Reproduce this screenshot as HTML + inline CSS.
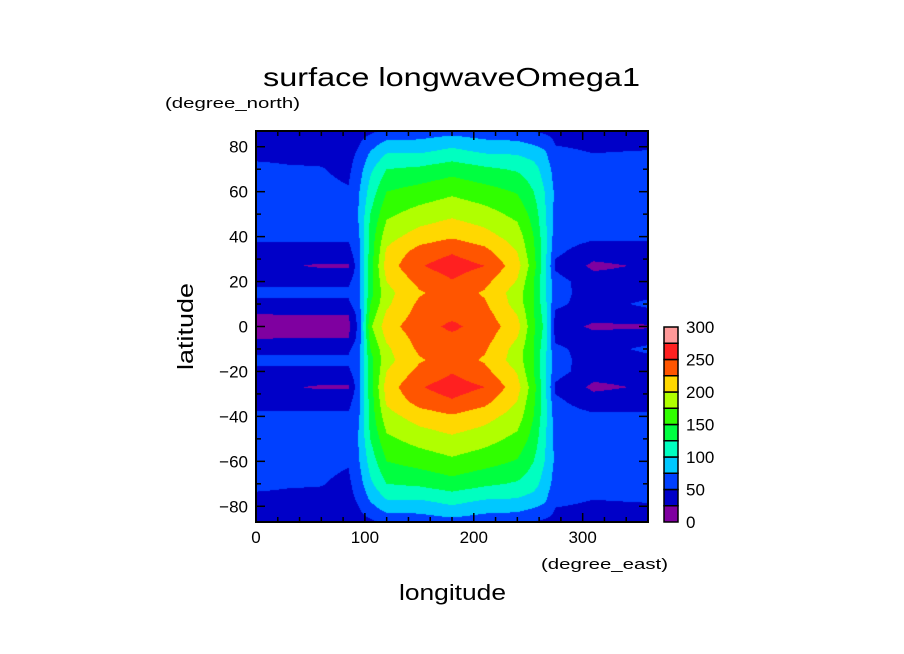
<!DOCTYPE html>
<html><head><meta charset="utf-8">
<style>
html,body{margin:0;padding:0;background:#fff;}
#wrap{position:relative;width:904px;height:654px;overflow:hidden;font-family:"Liberation Sans",sans-serif;}
canvas{position:absolute;left:256px;top:131px;}
svg{position:absolute;left:0;top:0;}
</style></head>
<body>
<div id="wrap">
<canvas id="cv" width="392" height="391"></canvas>
<svg id="sv" width="904" height="654">
<text x="263" y="86" font-size="26" textLength="377" lengthAdjust="spacingAndGlyphs">surface longwaveOmega1</text>
<text x="165" y="108" font-size="15" textLength="135" lengthAdjust="spacingAndGlyphs">(degree_north)</text>
<text x="541" y="569" font-size="15" textLength="127" lengthAdjust="spacingAndGlyphs">(degree_east)</text>
<text x="399" y="600" font-size="22" textLength="107" lengthAdjust="spacingAndGlyphs">longitude</text>
<text x="193" y="370" font-size="22" textLength="87" lengthAdjust="spacingAndGlyphs" transform="rotate(-90 193 370)">latitude</text>
<g id="axes"></g>
<g id="cbar"></g>
</svg>
</div>
<script>
// ---- data ----
const lons = [0,30,60,85,95,105,120,150,180,210,240,255,265,275,310,360];
const latsNorth = [0,5,10,15,20,27,33,40,50,60,70,77,82,87];
const row0  = [15,15,15,18,60,170,215,240,255,240,210,155,120,40,20,22];
const row5  = [22,25,24,25,62,160,205,235,245,235,200,152,115,45,35,40];
const row10 = [45,45,45,45,70,150,195,230,240,228,190,150,110,55,40,55];
const row15 = [55,55,55,55,70,140,192,222,238,222,188,150,108,58,40,42];
const row20 = [45,45,45,45,70,140,200,232,248,232,198,150,105,60,35,35];
const row27 = [40,27,22,22,70,140,212,248,262,250,210,160,110,45,20,28];
const row33 = [40,40,40,40,72,135,205,236,248,234,200,155,110,55,35,38];
const row40 = [55,55,55,55,75,135,190,212,222,210,188,150,110,62,55,55];
const row50 = [58,58,58,57,78,125,170,185,195,185,168,140,105,68,60,60];
const row60 = [58,57,55,52,75,110,150,160,170,160,148,125,100,70,62,60];
const row70 = [55,52,51,45,65,95,125,130,140,130,122,110,90,65,58,58];
const row77 = [45,45,45,42,55,78,100,100,110,100,98,90,80,55,50,52];
const row82 = [40,40,40,38,48,62,80,80,90,80,78,70,65,48,45,45];
const row87 = [35,35,30,30,40,45,55,60,65,60,55,50,45,42,40,40];
const rows = [row0,row5,row10,row15,row20,row27,row33,row40,row50,row60,row70,row77,row82,row87];
const levels = [0,25,50,75,100,125,150,175,200,225,250,275,300];
const levelColors = ["#7f00a0","#0000c8","#0040ff","#00c8ff","#00ffc0","#00ff40","#30ff00","#b0ff00","#ffd800","#ff5500","#ff2020","#ff9999"];
const xTicks = [0,100,200,300];
const yTicks = [-80,-60,-40,-20,0,20,40,60,80];

// ---- axes ----
const X0=256,X1=648,Y0=131,Y1=522,LON0=0,LON1=360,LAT0=-87,LAT1=87;
const xs = v => X0 + (v-LON0)/(LON1-LON0)*(X1-X0);
const ys = v => Y1 - (v-LAT0)/(LAT1-LAT0)*(Y1-Y0);

function idx(arr,v){let i=0;while(i<arr.length-2&&v>arr[i+1])i++;return i;}
function field(lon,lat){
  const a=Math.min(Math.abs(lat),87);
  const j=idx(latsNorth,a), i=idx(lons,lon);
  const ty=(a-latsNorth[j])/(latsNorth[j+1]-latsNorth[j]);
  const tx=Math.max(0,Math.min(1,(lon-lons[i])/(lons[i+1]-lons[i])));
  const r0=rows[j], r1=rows[j+1];
  const v0=r0[i]+(r0[i+1]-r0[i])*tx, v1=r1[i]+(r1[i+1]-r1[i])*tx;
  return v0+(v1-v0)*ty;
}
function hex(c){return [parseInt(c.substr(1,2),16),parseInt(c.substr(3,2),16),parseInt(c.substr(5,2),16)];}
const rgb = levelColors.map(hex);
const cv=document.getElementById('cv'), ctx=cv.getContext('2d');
const W=cv.width,H=cv.height, img=ctx.createImageData(W,H);
for(let py=0;py<H;py++){
  const lat = LAT1-(py+0.5)/H*(LAT1-LAT0);
  for(let px=0;px<W;px++){
    const lon = LON0+(px+0.5)/W*(LON1-LON0);
    const v=field(lon,lat);
    let k=0; while(k<levelColors.length-1 && v>=levels[k+1]) k++;
    const c=rgb[k], o=(py*W+px)*4;
    img.data[o]=c[0];img.data[o+1]=c[1];img.data[o+2]=c[2];img.data[o+3]=255;
  }
}
ctx.putImageData(img,0,0);

const NS='http://www.w3.org/2000/svg';
function mk(tag,attrs,parent){const e=document.createElementNS(NS,tag);for(const k in attrs)e.setAttribute(k,attrs[k]);parent.appendChild(e);return e;}
const ax=document.getElementById('axes');
const frame=mk('rect',{x:X0,y:Y0,width:X1-X0,height:Y1-Y0,fill:'none',stroke:'#000','stroke-width':2},ax);


for(let v=0;v<=360;v+=20){
  const L=(v%100===0)?9:5;
  const t1=mk('line',{x1:xs(v),x2:xs(v),y1:Y1,y2:Y1-L,stroke:'#000','stroke-width':1.5},ax);
  
  
  const t2=mk('line',{x1:xs(v),x2:xs(v),y1:Y0,y2:Y0+L,stroke:'#000','stroke-width':1.5},ax);
  
  
}
for(let v=-80;v<=80;v+=10){
  const L=(v%20===0)?9:5;
  const t1=mk('line',{x1:X0,x2:X0+L,y1:ys(v),y2:ys(v),stroke:'#000','stroke-width':1.5},ax);
  
  
  const t2=mk('line',{x1:X1,x2:X1-L,y1:ys(v),y2:ys(v),stroke:'#000','stroke-width':1.5},ax);
  
  
}
xTicks.forEach(v=>{
  const t=mk('text',{x:xs(v),y:Y1+21,'font-size':17,'text-anchor':'middle'},ax);
  t.textContent=v;
  
  
});
yTicks.forEach(v=>{
  const t=mk('text',{x:X0-8,y:ys(v)+6,'font-size':17,'text-anchor':'end'},ax);
  t.textContent=(v<0?'\u2212'+(-v):v);
  
  
});
// colorbar
const cb=document.getElementById('cbar');
const CB0=522,CB1=327,CBX=664,CBW=14;
const cs=v=>CB0-(v-levels[0])/(levels[levels.length-1]-levels[0])*(CB0-CB1);
levelColors.forEach((c,k)=>{
  const r=mk('rect',{x:CBX,y:cs(levels[k+1]),width:CBW,height:cs(levels[k])-cs(levels[k+1]),fill:c,stroke:'#000','stroke-width':1.5},cb);
  
  
});
levels.forEach((v,k)=>{
  if(k%2) return;
  const t=mk('text',{x:686,y:cs(v)+6,'font-size':17},cb);
  t.textContent=v;
  
  
});
</script>
</body></html>
